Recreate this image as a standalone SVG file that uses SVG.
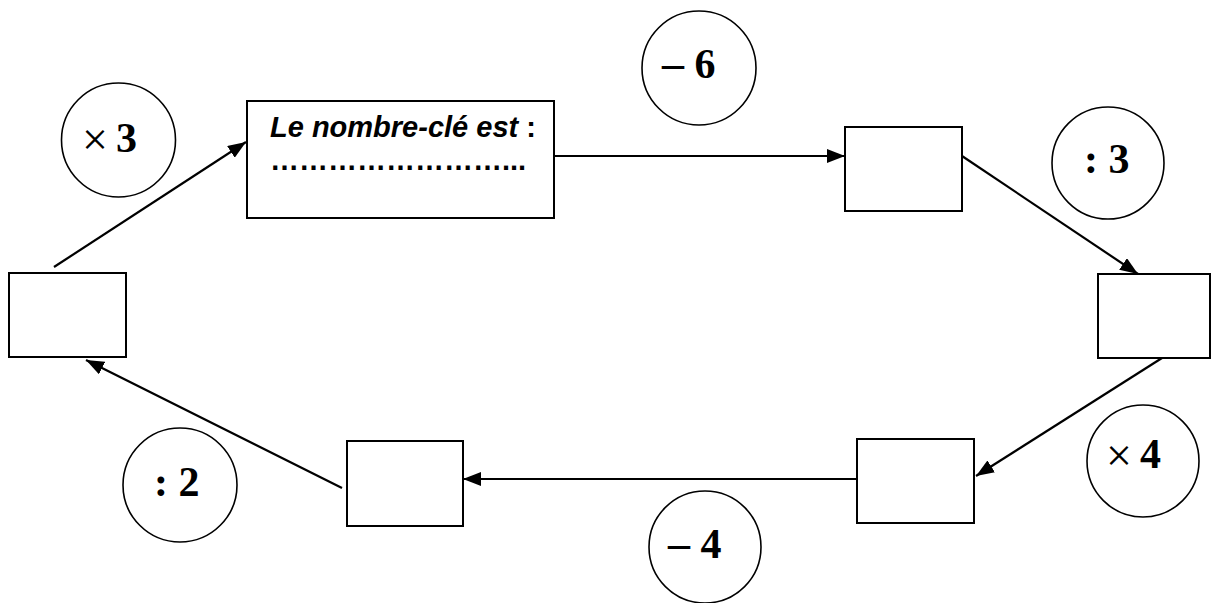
<svg xmlns="http://www.w3.org/2000/svg" width="1212" height="603" viewBox="0 0 1212 603">
<style>
.box{fill:#fff;stroke:#000;stroke-width:2}
.op{fill:#fff;stroke:#000;stroke-width:1.6}
.opt{font-family:"Liberation Serif","Times New Roman",serif;font-weight:bold;font-size:42px;fill:#000}
.x{font-weight:normal;font-size:46px}
.m{font-size:44px}
.con{fill:none;stroke:#000;stroke-width:2.2;marker-end:url(#ah)}
.key{font-family:"Liberation Sans",Arial,sans-serif;font-weight:bold;font-size:29px;fill:#000}
</style>
<defs>
<marker id="ah" viewBox="0 0 18 14" refX="18" refY="7" markerWidth="18" markerHeight="14" markerUnits="userSpaceOnUse" orient="auto">
<path d="M0,0 L18,7 L0,14 Z" fill="#000"/>
</marker>
</defs>
<rect width="1212" height="603" fill="#fff"/>
<g id="connectors">
<line class="con" x1="54" y1="267" x2="246" y2="142"/>
<line class="con" x1="554" y1="156" x2="845" y2="156"/>
<line class="con" x1="962" y1="156" x2="1138" y2="274"/>
<line class="con" x1="1162" y1="358" x2="976" y2="476"/>
<line class="con" x1="857" y1="479" x2="463" y2="479"/>
<line class="con" x1="342" y1="488" x2="86" y2="360"/>
</g>
<g id="key-box">
<rect class="box" x="247" y="101" width="307" height="117"/>
<text class="key" x="270" y="137"><tspan font-style="italic">Le nombre-clé est</tspan> :</text>
<text class="key" x="270" y="170">……………………...</text>
</g>
<g id="box-top-right"><rect class="box" x="845" y="127" width="117" height="84"/></g>
<g id="box-right"><rect class="box" x="1098" y="274" width="112" height="84"/></g>
<g id="box-bottom-right"><rect class="box" x="857" y="439" width="117" height="84"/></g>
<g id="box-bottom-mid"><rect class="box" x="347" y="441" width="116" height="85"/></g>
<g id="box-left"><rect class="box" x="9" y="273" width="117" height="84"/></g>
<g id="op-times3"><circle class="op" cx="118.5" cy="140" r="57"/><text class="opt x" x="82" y="155">×</text><text class="opt" x="116" y="152">3</text></g>
<g id="op-minus6"><circle class="op" cx="699" cy="68" r="57"/><text class="opt" x="662" y="78"><tspan class="m">–</tspan> 6</text></g>
<g id="op-div3"><circle class="op" cx="1108" cy="163" r="56"/><text class="opt" x="1084" y="173">: 3</text></g>
<g id="op-times4"><circle class="op" cx="1143" cy="461" r="56"/><text class="opt x" x="1106" y="471">×</text><text class="opt" x="1140" y="468">4</text></g>
<g id="op-div2"><circle class="op" cx="180" cy="485" r="57"/><text class="opt" x="154" y="496">: 2</text></g>
<g id="op-minus4"><circle class="op" cx="705" cy="547" r="56"/><text class="opt" x="668" y="558"><tspan class="m">–</tspan> 4</text></g>
</svg>
